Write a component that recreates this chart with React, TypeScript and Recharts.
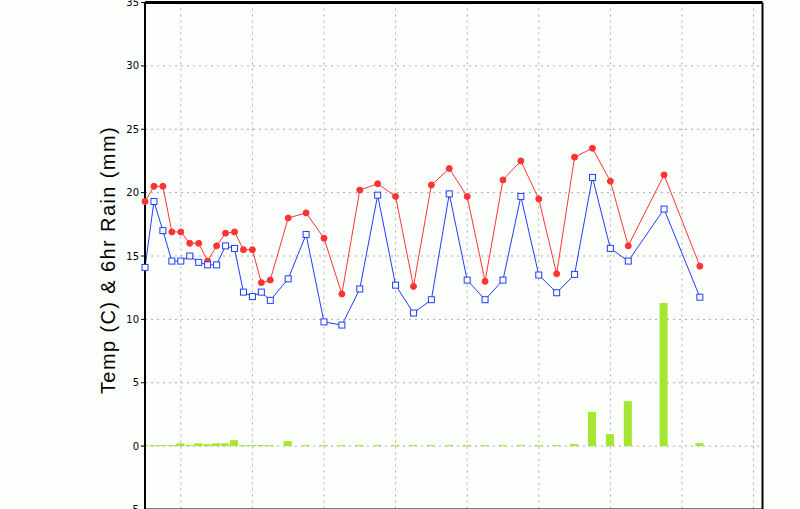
import React from "react";
import {
  Bar,
  CartesianGrid,
  ComposedChart,
  Line,
  ReferenceLine,
  XAxis,
  YAxis,
} from "recharts";

// hours from the left edge of the plot
const hours = [
  0, 3, 6, 9, 12, 15, 18, 21, 24, 27, 30, 33, 36, 39, 42, 48, 54, 60, 66, 72,
  78, 84, 90, 96, 102, 108, 114, 120, 126, 132, 138, 144, 150, 156, 162, 174,
  186,
];

const temp = [
  19.3, 20.5, 20.5, 16.9, 16.9, 16.0, 16.0, 14.6, 15.8, 16.8, 16.9, 15.5, 15.5,
  12.9, 13.1, 18.0, 18.4, 16.4, 12.0, 20.2, 20.7, 19.7, 12.6, 20.6, 21.9, 19.7,
  13.0, 21.0, 22.5, 19.5, 13.6, 22.8, 23.5, 20.9, 15.8, 21.4, 14.2,
];

const dewPoint = [
  14.1, 19.3, 17.0, 14.6, 14.6, 15.0, 14.5, 14.3, 14.3, 15.8, 15.6, 12.15, 11.8,
  12.15, 11.5, 13.2, 16.7, 9.8, 9.55, 12.4, 19.8, 12.7, 10.5, 11.55, 19.9, 13.1,
  11.55, 13.1, 19.7, 13.5, 12.1, 13.55, 21.2, 15.6, 14.6, 18.7, 11.75,
];

const rain = [
  0.08, 0.08, 0.08, 0.08, 0.22, 0.08, 0.22, 0.15, 0.22, 0.22, 0.47, 0.08, 0.08,
  0.08, 0.08, 0.4, 0.08, 0.08, 0.08, 0.08, 0.08, 0.08, 0.08, 0.08, 0.08, 0.08,
  0.08, 0.08, 0.08, 0.08, 0.08, 0.16, 2.7, 0.95, 3.55, 11.3, 0.24,
];

const yTicks = [-5, 0, 5, 10, 15, 20, 25, 30, 35];
const xGridTicks = [12, 36, 60, 84, 108, 132, 156, 180, 204];

const data = hours.map((h, i) => ({
  hour: h,
  temp: temp[i],
  dewPoint: dewPoint[i],
  rain: rain[i],
}));

const SquareDot = (props: any) => {
  const { cx, cy, index } = props;
  if (cx == null || cy == null) return null;
  return (
    <rect
      key={`sq-${index}`}
      x={cx - 3}
      y={cy - 3}
      width={6}
      height={6}
      fill="#ffffff"
      stroke="#1f3cff"
      strokeWidth={1}
    />
  );
};

export default function App() {
  return (
    <div
      style={{
        position: "absolute",
        left: 0,
        top: 0,
        width: 800,
        height: 509,
        overflow: "hidden",
        background: "#fdfffd",
      }}
    >
      <ComposedChart
        width={800}
        height={545}
        data={data}
        margin={{ top: 2.5, right: 37.5, bottom: 5.5, left: 0 }}
      >
        <CartesianGrid stroke="#aaaaaa" strokeDasharray="2 4" />
        <XAxis
          dataKey="hour"
          type="number"
          domain={[0, 207]}
          ticks={xGridTicks}
          interval={0}
          height={30}
          tickFormatter={() => ""}
          tickLine={false}
          axisLine={{ stroke: "#000", strokeWidth: 2 }}
        />
        <YAxis
          type="number"
          domain={[-5, 35]}
          ticks={yTicks}
          width={145}
          interval={0}
          tickSize={4}
          tickLine={{ stroke: "#000" }}
          axisLine={{ stroke: "#000", strokeWidth: 2 }}
          tick={{
            fontSize: 10,
            fill: "#000",
            fontFamily: "DejaVu Sans",
          }}
          label={{
            content: () => (
              <text
                x={115}
                y={260}
                transform="rotate(-90 115 260)"
                textAnchor="middle"
                fontFamily="Liberation Sans"
                fontSize={20}
                letterSpacing={1.4}
                fill="#000"
              >
                Temp (C) &amp; 6hr Rain (mm)
              </text>
            ),
          }}
        />
        <ReferenceLine y={35} stroke="#000" strokeWidth={3} ifOverflow="visible" />
        <ReferenceLine x={207} stroke="#000" strokeWidth={2} ifOverflow="visible" />
        <Bar
          dataKey="rain"
          fill="#a5e633"
          barSize={10}
          isAnimationActive={false}
        />
        <Line
          dataKey="temp"
          stroke="#ff3333"
          strokeWidth={1}
          dot={{ r: 3, fill: "#ff3333", stroke: "#ff3333", strokeWidth: 1 }}
          activeDot={false}
          isAnimationActive={false}
        />
        <Line
          dataKey="dewPoint"
          stroke="#1f3cff"
          strokeWidth={1}
          dot={SquareDot}
          activeDot={false}
          isAnimationActive={false}
        />
      </ComposedChart>
    </div>
  );
}
